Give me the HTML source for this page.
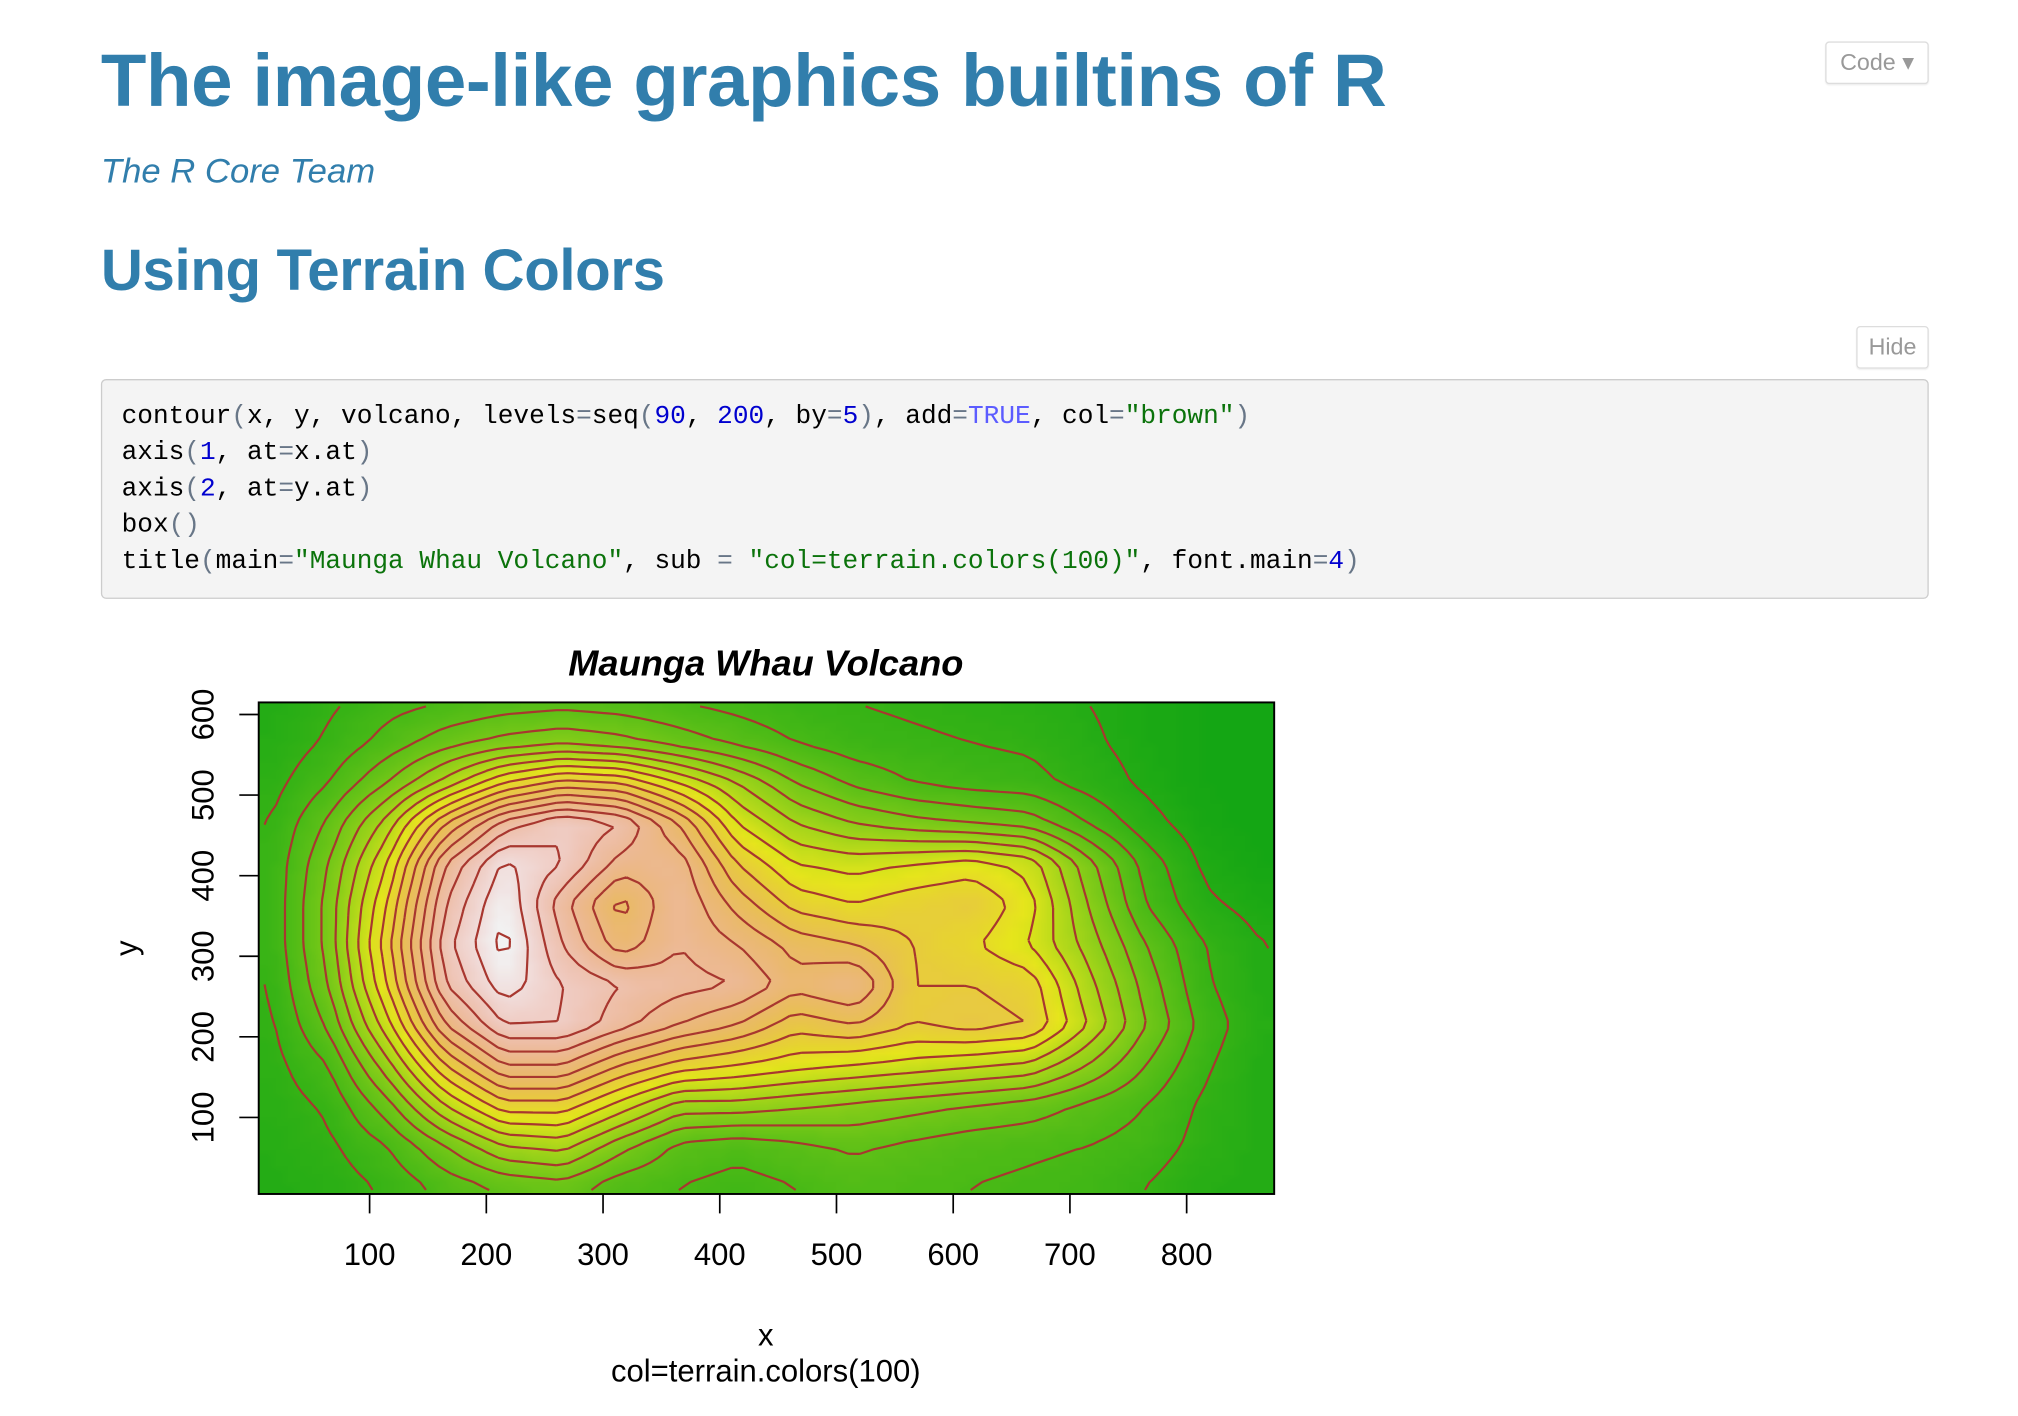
<!DOCTYPE html>
<html><head><meta charset="utf-8"><style>
html,body{margin:0;padding:0;background:#fff;width:2018px;height:1416px;overflow:hidden}
#wrap{position:absolute;left:0;top:0;width:1560px;height:1095px;transform:scale(1.29359);transform-origin:0 0;font-family:"Liberation Sans",Arial,sans-serif}
.abs{position:absolute;white-space:nowrap}
h1{position:absolute;left:78px;top:30px;margin:0;font-size:57.6px;font-weight:bold;color:#317eac;letter-spacing:-0.3px}
.author{left:78px;top:117px;font-size:26.8px;font-style:italic;color:#317eac}
h2{position:absolute;left:78px;top:183px;margin:0;font-size:45px;font-weight:bold;color:#317eac;letter-spacing:-0.3px}
.btn{border:1px solid #ddd;border-radius:3px;background:#fff;color:#999;font-size:18px;box-sizing:border-box;text-align:center;box-shadow:0 1px 1px rgba(0,0,0,.06)}
pre{position:absolute;left:78px;top:293px;width:1413px;height:170px;box-sizing:border-box;margin:0;background:#f4f4f4;border:1px solid #ccc;border-radius:4px;padding:15px 15px;font-family:"Liberation Mono",monospace;font-size:20.2px;line-height:28px;color:#000}
.p{color:#687687}.n{color:#0000cf}.s{color:#0b730b}.b{color:#5c5cff}
</style></head><body>
<div id="wrap">
<h1>The image-like graphics builtins of R</h1>
<div class="abs author">The R Core Team</div>
<div class="abs btn" style="left:1411px;top:32px;width:80px;height:33px;line-height:31px">Code ▾</div>
<h2>Using Terrain Colors</h2>
<div class="abs btn" style="left:1435px;top:252px;width:56px;height:33px;line-height:31px">Hide</div>
<pre>contour<span class="p">(</span>x, y, volcano, levels<span class="p">=</span>seq<span class="p">(</span><span class="n">90</span>, <span class="n">200</span>, by<span class="p">=</span><span class="n">5</span><span class="p">)</span>, add<span class="p">=</span><span class="b">TRUE</span>, col<span class="p">=</span><span class="s">"brown"</span><span class="p">)</span>
axis<span class="p">(</span><span class="n">1</span>, at<span class="p">=</span>x.at<span class="p">)</span>
axis<span class="p">(</span><span class="n">2</span>, at<span class="p">=</span>y.at<span class="p">)</span>
box<span class="p">()</span>
title<span class="p">(</span>main<span class="p">=</span><span class="s">"Maunga Whau Volcano"</span>, sub <span class="p">=</span> <span class="s">"col=terrain.colors(100)"</span>, font.main<span class="p">=</span><span class="n">4</span><span class="p">)</span></pre>
<canvas id="heat" width="1570" height="760" style="position:absolute;left:200px;top:543px;width:785px;height:380px"></canvas>
<svg id="chart" width="1560" height="1095" style="position:absolute;left:0;top:0"></svg>
</div>
<script>
// coarse elevation grid (rows top y=615 to bottom y=15, cols x=15..865 step 50)
const xCoords=[15,65,115,165,215,265,315,365,415,465,515,565,615,665,715,765,815,865];
const yCoordsTopDown=[615,565,515,465,415,365,315,265,215,165,115,65,15];
const row615=[100,104,108,110,112,113,112,110,108,106,105,104,103,102,100,98,96,95];
const row565=[101,106,112,118,122,124,122,118,114,110,107,106,105,104,101,98,96,95];
const row515=[103,110,120,132,145,152,150,140,130,120,114,110,108,107,103,99,96,95];
const row465=[105,116,132,155,172,180,175,160,140,130,125,122,120,118,110,102,97,95];
const row415=[106,120,140,170,186,180,168,168,150,140,138,140,142,138,122,108,99,96];
const row365=[106,122,145,175,190,172,158,170,158,148,145,148,150,142,125,110,101,98];
const row315=[106,122,148,178,192,175,162,170,165,158,155,150,146,140,128,115,105,100];
const row265=[105,120,145,175,188,180,175,172,170,162,166,150,150,148,132,118,106,100];
const row215=[104,116,138,165,180,180,172,165,160,152,155,150,152,150,135,120,108,101];
const row165=[103,110,128,150,165,165,155,148,145,142,140,138,136,134,125,115,106,100];
const row115=[102,106,118,135,148,148,138,128,128,126,124,122,120,118,114,110,104,100];
const row65=[101,104,110,120,130,132,122,114,112,114,116,114,112,111,110,108,103,100];
const row15=[100,102,106,112,116,118,112,110,108,110,112,111,110,109,108,105,101,100];
const xTicks=[100,200,300,400,500,600,700,800];
const yTicks=[100,200,300,400,500,600];
const contourLevels=[];for(let l=90;l<=200;l+=5)contourLevels.push(l);

const rows=[row615,row565,row515,row465,row415,row365,row315,row265,row215,row165,row115,row65,row15];
const PL=200,PT=543,PW=785,PH=380,XMIN=5,XMAX=875,YMIN=5,YMAX=615;
const sx=v=>PL+(v-XMIN)/(XMAX-XMIN)*PW;
const sy=v=>PT+PH-(v-YMIN)/(YMAX-YMIN)*PH;
const yBottomUp=yCoordsTopDown.slice().reverse(), rowsBU=rows.slice().reverse();
function elev(x,y){
  const fx=Math.max(0,Math.min(xCoords.length-1.0001,(x-xCoords[0])/(xCoords[1]-xCoords[0])));
  const fy=Math.max(0,Math.min(yBottomUp.length-1.0001,(y-yBottomUp[0])/(yBottomUp[1]-yBottomUp[0])));
  const i=Math.floor(fx),j=Math.floor(fy),u=fx-i,w=fy-j;
  const a=rowsBU[j][i],b=rowsBU[j][i+1],c=rowsBU[j+1][i],d=rowsBU[j+1][i+1];
  return a*(1-u)*(1-w)+b*u*(1-w)+c*(1-u)*w+d*u*w;
}
function hsv(h,s,v){const i=Math.floor(h*6),f=h*6-i,p=v*(1-s),q=v*(1-f*s),t=v*(1-(1-f)*s);let r,g,b;
 switch(((i%6)+6)%6){case 0:r=v;g=t;b=p;break;case 1:r=q;g=v;b=p;break;case 2:r=p;g=v;b=t;break;case 3:r=p;g=q;b=v;break;case 4:r=t;g=p;b=v;break;default:r=v;g=p;b=q;}
 return [r*255,g*255,b*255];}
const pal=[];{const n=100,k=50;for(let i=0;i<k;i++){const t=i/(k-1);pal.push(hsv((4-2*t)/12,0.88,0.65+0.25*t));}
 for(let i=1;i<=n-k;i++){const t=i/(n-k);pal.push(hsv((2-2*t)/12,0.88*(1-t),0.9+0.05*t));}}
const NX=87,NY=61,fine=[];
for(let j=0;j<NY;j++){fine.push([]);for(let i=0;i<NX;i++)fine[j].push(elev(10+10*i,10+10*j));}
let zmin=Infinity,zmax=-Infinity;fine.forEach(r=>r.forEach(v=>{zmin=Math.min(zmin,v);zmax=Math.max(zmax,v);}));
const off=document.createElement('canvas');off.width=NX;off.height=NY;const octx=off.getContext('2d');
const img=octx.createImageData(NX,NY);
for(let j=0;j<NY;j++)for(let i=0;i<NX;i++){const v=fine[j][i];let k=Math.floor((v-zmin)/(zmax-zmin)*99.999);const c=pal[k];const o=((NY-1-j)*NX+i)*4;img.data[o]=c[0];img.data[o+1]=c[1];img.data[o+2]=c[2];img.data[o+3]=255;}
octx.putImageData(img,0,0);
const ctx=document.getElementById('heat').getContext('2d');ctx.imageSmoothingEnabled=true;ctx.drawImage(off,0,0,1570,760);

const NS='http://www.w3.org/2000/svg',svg=document.getElementById('chart');
function mk(tag,at,parent){const e=document.createElementNS(NS,tag);for(const k in at)e.setAttribute(k,at[k]);(parent||svg).appendChild(e);return e;}
const cg=mk('g',{stroke:'#a8372f','stroke-width':1.7,fill:'none'});


contourLevels.forEach(L=>{let d='';
 for(let j=0;j<NY-1;j++)for(let i=0;i<NX-1;i++){
  const xs=[10+10*i,10+10*(i+1),10+10*(i+1),10+10*i],ys=[10+10*j,10+10*j,10+10*(j+1),10+10*(j+1)];
  const vs=[fine[j][i],fine[j][i+1],fine[j+1][i+1],fine[j+1][i]];const pts=[];
  for(let e=0;e<4;e++){const a=vs[e],b=vs[(e+1)%4];if((a<L)!==(b<L)){const t=(L-a)/(b-a);pts.push([xs[e]+t*(xs[(e+1)%4]-xs[e]),ys[e]+t*(ys[(e+1)%4]-ys[e])]);}}
  for(let p=0;p+1<pts.length;p+=2)d+=`M${sx(pts[p][0]).toFixed(1)},${sy(pts[p][1]).toFixed(1)}L${sx(pts[p+1][0]).toFixed(1)},${sy(pts[p+1][1]).toFixed(1)}`;
 }
 if(d){const p=mk('path',{d:d},cg);}
});
const box=mk('rect',{x:PL,y:PT,width:PW,height:PH,fill:'none',stroke:'#000','stroke-width':1.5});

xTicks.forEach(v=>{const l=mk('line',{x1:sx(v),x2:sx(v),y1:PT+PH,y2:PT+PH+15,stroke:'#000','stroke-width':1.3});
 
 const t=mk('text',{x:sx(v),y:978,'text-anchor':'middle','font-size':24,fill:'#000'});t.textContent=v;
 });
yTicks.forEach(v=>{const l=mk('line',{x1:PL,x2:PL-15,y1:sy(v),y2:sy(v),stroke:'#000','stroke-width':1.3});
 
 const t=mk('text',{x:165,y:sy(v),'text-anchor':'middle','font-size':24,fill:'#000',transform:`rotate(-90 165 ${sy(v)})`});t.textContent=v;
 });
const ti=mk('text',{x:592,y:522,'text-anchor':'middle','font-size':28,'font-weight':'bold','font-style':'italic',fill:'#000'});ti.textContent='Maunga Whau Volcano';

const xl=mk('text',{x:592,y:1040,'text-anchor':'middle','font-size':24,fill:'#000'});xl.textContent='x';

const yl=mk('text',{x:106,y:733,'text-anchor':'middle','font-size':24,fill:'#000',transform:'rotate(-90 106 733)'});yl.textContent='y';

const sub=mk('text',{x:592,y:1068,'text-anchor':'middle','font-size':24,fill:'#000'});sub.textContent='col=terrain.colors(100)';

</script>
</body></html>
